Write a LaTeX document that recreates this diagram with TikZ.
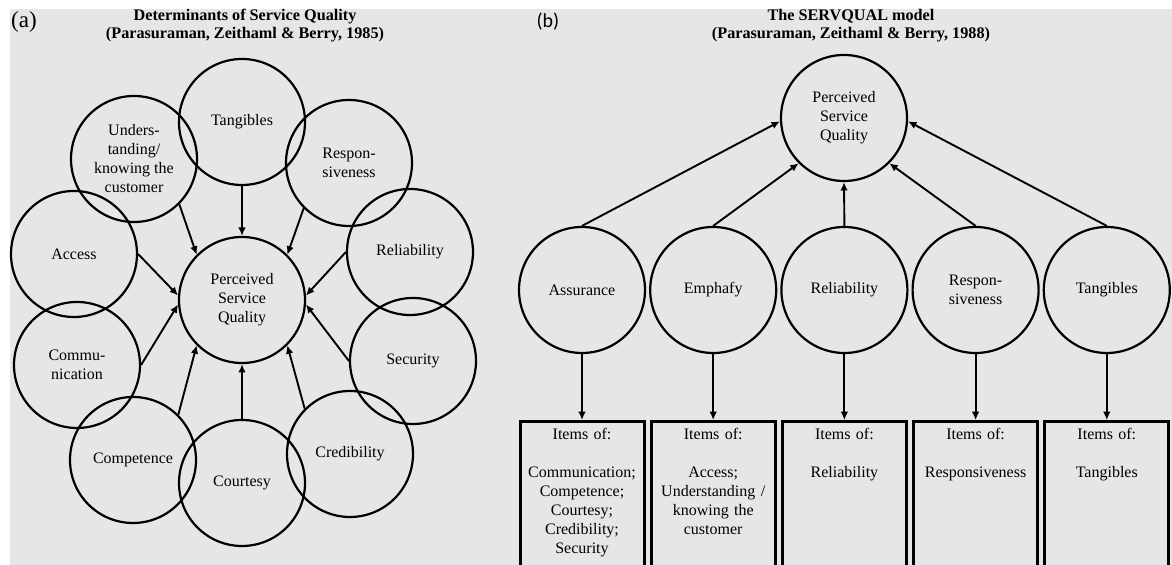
\documentclass[tikz,border=0pt]{standalone}
\usepackage{fontspec}
\setmainfont{Liberation Serif}
\newfontfamily\tagfont{Carlito}
\usetikzlibrary{arrows.meta,positioning}
\definecolor{panelgray}{RGB}{230,230,230}

\begin{document}
\begin{tikzpicture}[x=0.5pt, y=0.5pt, font=\fontsize{8}{9.5}\selectfont, node distance=1.5pt,
  ring/.style={draw, circle, line width=1.1pt, minimum size=63pt, inner sep=0pt, align=center},
  itembox/.style={draw, line width=1.5pt, text width=60pt, inner xsep=1pt, inner ysep=3.5pt, align=center, text depth=80pt},
  heading/.style={font=\bfseries\fontsize{8.1}{9}\selectfont, align=center},
  link/.style={->, line width=0.95pt}, >={Latex[length=4.2pt,width=3.8pt]}]
\fill[white] (0,0) rectangle (1172,565);
\fill[panelgray] (10,0) rectangle (1172,556);
\useasboundingbox (0,0) rectangle (1172,565);
% (a) determinants
\node[font=\fontsize{11.5}{13}\selectfont] (taga) at (24,543) {(a)};
\node[heading] (titlea) at (245,539) {Determinants of Service Quality\\(Parasuraman, Zeithaml \& Berry, 1985)};
\node[ring] (psqa) at (242,265) {Perceived\\Service\\Quality};
\node[ring] (tang) at (242,443) {Tangibles};
\node[ring] (und) at (134,406) {Unders-\\tanding/\\knowing the\\customer};
\node[ring] (resp) at (349,402) {Respon-\\siveness};
\node[ring] (acc) at (74,311) {Access};
\node[ring] (rel) at (410,313) {Reliability};
\node[ring] (comm) at (77,200) {Commu-\\nication};
\node[ring] (sec) at (413,204) {Security};
\node[ring] (comp) at (133,105) {Competence};
\node[ring] (cred) at (350,111) {Credibility};
\node[ring] (court) at (242,82) {Courtesy};
\draw[link] (tang.south) -- (psqa.north);
\draw[link] (und.-45) -- (psqa.135);
\draw[link] (resp.225) -- (psqa.45);
\draw[link] (acc.east) -- (psqa.176);
\draw[link] (comm.east) -- (psqa.184);
\draw[link] (rel.west) -- (psqa.4);
\draw[link] (sec.west) -- (psqa.-4);
\draw[link] (comp.45) -- (psqa.225);
\draw[link] (court.north) -- (psqa.south);
\draw[link] (cred.135) -- (psqa.-45);
% (b) servqual
\node[font=\tagfont\fontsize{10}{12}\selectfont] (tagb) at (548,543) {(b)};
\node[heading] (titleb) at (851,539) {The SERVQUAL model\\(Parasuraman, Zeithaml \& Berry, 1988)};
\node[ring] (psqb) at (844,447) {Perceived\\Service\\Quality};
\node[ring] (assur) at (582,275) {Assurance};
\node[ring, right=of assur] (emph) {Emphafy};
\node[ring, right=of emph] (relb) {Reliability};
\node[ring, right=of relb] (respb) {Respon-\\siveness};
\node[ring, right=of respb] (tangb) {Tangibles};
\node[itembox, below=33pt of assur] (itemsa) {Items of:\\[9.5pt]Communication;\\Competence;\\Courtesy;\\Credibility;\\Security};
\node[itembox, below=33pt of emph] (itemse) {Items of:\\[9.5pt]Access;\\Understanding /\\knowing the\\customer};
\node[itembox, below=33pt of relb] (itemsr) {Items of:\\[9.5pt]Reliability};
\node[itembox, below=33pt of respb] (itemsp) {Items of:\\[9.5pt]Responsiveness};
\node[itembox, below=33pt of tangb] (itemst) {Items of:\\[9.5pt]Tangibles};
\draw[link] (assur.north) -- (psqb.183);
\draw[link] (emph.north) -- (psqb.225);
\draw[link] (relb.north) -- (psqb.south);
\draw[link] (respb.north) -- (psqb.-45);
\draw[link] (tangb.north) -- (psqb.-3);
\draw[link] (assur.south) -- (itemsa.north);
\draw[link] (emph.south) -- (itemse.north);
\draw[link] (relb.south) -- (itemsr.north);
\draw[link] (respb.south) -- (itemsp.north);
\draw[link] (tangb.south) -- (itemst.north);
\end{tikzpicture}
\end{document}
